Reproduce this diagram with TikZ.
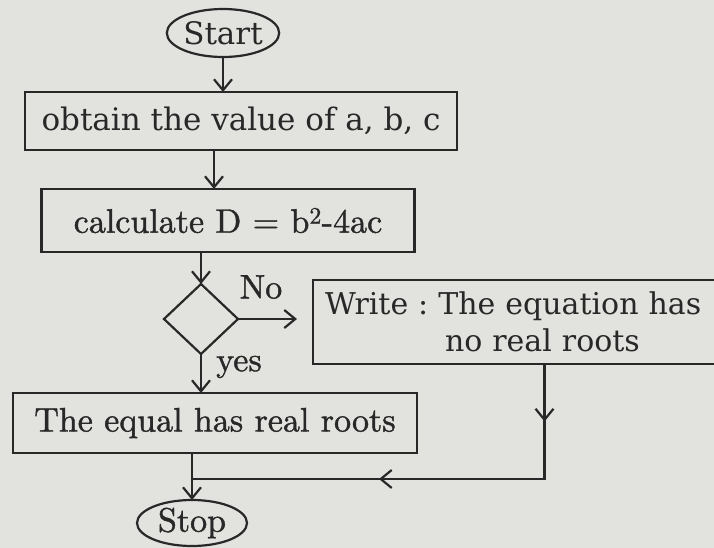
\documentclass[tikz,border=0pt]{standalone}
\usepackage{fontspec}
\newfontfamily\bookfamily{DejaVu Serif}
\newfontfamily\romanfamily[Extension=.otf, FakeBold=1.2]{lmroman10-regular}
\usepackage{tikz}
\usetikzlibrary{positioning,shapes.geometric,arrows.meta,decorations.markings}
\definecolor{paper}{RGB}{226,226,223}
\definecolor{ink}{RGB}{40,40,40}
\newcommand{\bookbig}{\bookfamily\fontsize{31bp}{37bp}\selectfont}
\newcommand{\booknote}{\bookfamily\fontsize{30bp}{37bp}\selectfont}
\newcommand{\romanbig}{\romanfamily\fontsize{34bp}{40bp}\selectfont}
\newcommand{\romantag}{\romanfamily\fontsize{34bp}{40bp}\selectfont}
\frenchspacing

\begin{document}
\begin{tikzpicture}[
    node distance=36bp,
    color=ink,
    line width=2.2bp,
    >={Straight Barb[length=11bp,width=18bp]},
    every node/.style={outer sep=0pt},
    term/.style={ellipse, draw, inner sep=0pt, minimum width=110bp, minimum height=48bp},
    block/.style={rectangle, draw, inner sep=0pt, minimum height=60bp},
    decision/.style={diamond, draw, inner sep=0pt, minimum width=74bp, minimum height=70bp},
    tag/.style={inner sep=0pt, font=\romantag},
    loopback/.style={decoration={markings,
        mark=at position 0.123 with {\arrow{>}},
        mark=at position 0.6 with {\arrow{>}}}, postaction={decorate}},
]
\useasboundingbox (0,0) rectangle (714bp,-548bp);
\fill[paper] (0,0) rectangle (714bp,-548bp);
\clip (0,0) rectangle (714bp,-548bp);

\node[term, font=\bookbig] (start) at (223bp,-33bp) {Start};
\node[block, font=\bookbig, minimum width=432bp, minimum height=58bp, below=35bp of start, xshift=18bp] (obtain) {obtain the value of a, b, c};
\node[block, font=\romanbig, minimum width=373bp, minimum height=63bp, below=39bp of obtain, xshift=-13bp] (calc) {calculate D = b\textsuperscript{2}-4ac};
\node[decision, below=32bp of calc, xshift=-27bp] (dec) {};
\node[block, font=\booknote, text width=439bp, align=left, inner xsep=12bp, minimum height=84bp, right=75bp of dec, yshift=-3bp] (noroots) {Write : The equation has\\\hspace*{120bp}no real roots};
\node[block, font=\romanbig, minimum width=404bp, below=39bp of dec, xshift=14bp] (roots) {The equal has real roots};
\node[term, font=\romantag, minimum height=46bp, below=47bp of roots, xshift=-23bp] (stop) {Stop};
\node[tag] (no) at ([xshift=23bp,yshift=32bp]dec.east) {No};
\node[tag] (yes) at ([xshift=38bp,yshift=-13bp]dec.south) {yes};

\coordinate (feed) at ([xshift=-14bp]calc.north);
\coordinate (gap) at ([xshift=-16bp]noroots.west);
\coordinate (join) at ([yshift=21bp]stop.north);
\draw[->] (start.south) -- (start.south |- obtain.north);
\draw[->] (feed |- obtain.south) -- (feed);
\draw[->] (calc.south -| dec.north) -- (dec.north);
\draw[->] (dec.east) -- (dec.east -| gap);
\draw[->] (dec.south) -- (dec.south |- roots.north);
\draw[->] (roots.south -| stop.north) -- (stop.north);
\draw[loopback] (noroots.south) |- (join);
\end{tikzpicture}
\end{document}
